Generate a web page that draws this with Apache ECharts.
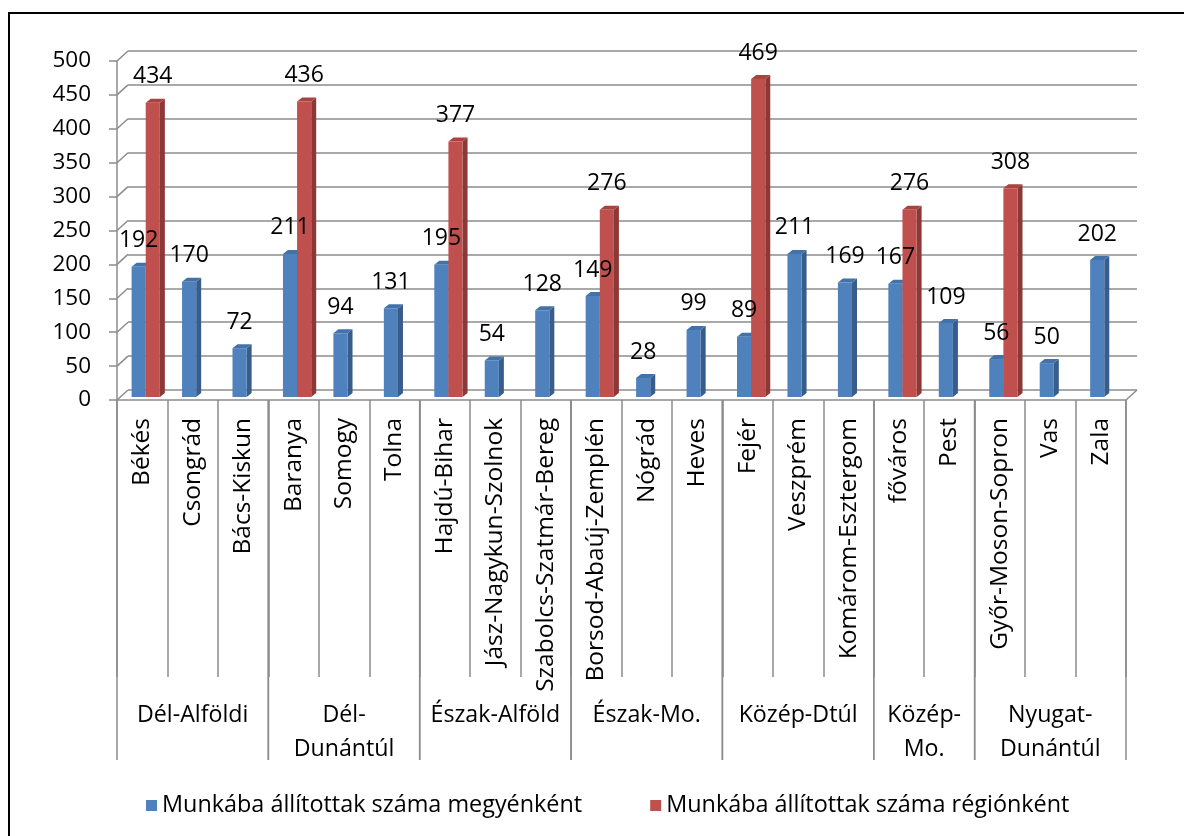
<!DOCTYPE html>
<html>
<head>
<meta charset="utf-8">
<script src="https://cdn.jsdelivr.net/npm/echarts@6/dist/echarts.min.js"></script>
<style>
html,body{margin:0;padding:0;background:#fff;overflow:hidden;}
#frame{position:absolute;left:8px;top:12px;width:1300px;height:1000px;border:2px solid #000;box-sizing:border-box;}
#chart{position:absolute;left:0;top:0;width:1184px;height:836px;}
</style>
</head>
<body>
<div id="frame"></div>
<div id="chart"></div>
<script>
const counties = ['Békés','Csongrád','Bács-Kiskun','Baranya','Somogy','Tolna','Hajdú-Bihar','Jász-Nagykun-Szolnok','Szabolcs-Szatmár-Bereg','Borsod-Abaúj-Zemplén','Nógrád','Heves','Fejér','Veszprém','Komárom-Esztergom','főváros','Pest','Győr-Moson-Sopron','Vas','Zala'];
const countyValues = [192,170,72,211,94,131,195,54,128,149,28,99,89,211,169,167,109,56,50,202];
const regionValues = [434,null,null,436,null,null,377,null,null,276,null,null,469,null,null,276,null,308,null,null];
const regionNames = ['Dél-Alföldi','Dél-\nDunántúl','Észak-Alföld','Észak-Mo.','Közép-Dtúl','Közép-\nMo.','Nyugat-\nDunántúl'];
const regionSizes = [3,3,3,3,3,2,3];
const yTicks = [0,50,100,150,200,250,300,350,400,450,500];
const seriesNames = ['Munkába állítottak száma megyénként','Munkába állítottak száma régiónként'];

const FONT = '"Open Sans", sans-serif';
const GRAY = '#8c8c8c';
const BAR_DX = 3.5, BAR_DY = -3;   // bars sit mid-depth
const DEPTH_X = 5, DEPTH_Y = -4;   // 3D depth of each bar
const BACK_DX = 11, BACK_DY = -10; // back wall offset

const blue = {front:'#4f81bd', side:'#385d8a', top:'#4372aa'};
const red = {front:'#c0504d', side:'#8c3836', top:'#a9433f'};

function barItem(api, slot, colors){
  const i = api.value(0), v = api.value(1);
  if (v == null || isNaN(v)) return null;
  const catW = api.size([1,0])[0];
  const bw = catW*0.28;
  const c = api.coord([i, v]);
  const base = api.coord([i, 0]);
  const x0 = c[0] + (slot === 0 ? -bw : 0) + BAR_DX;
  const x1 = x0 + bw;
  const yt = c[1] + BAR_DY, yb = base[1] + BAR_DY;
  return {type:'group', children:[
    {type:'polygon', shape:{points:[[x1,yb],[x1+DEPTH_X,yb+DEPTH_Y],[x1+DEPTH_X,yt+DEPTH_Y],[x1,yt]]}, style:{fill:colors.side}},
    {type:'polygon', shape:{points:[[x0,yt],[x0+DEPTH_X,yt+DEPTH_Y],[x1+DEPTH_X,yt+DEPTH_Y],[x1,yt]]}, style:{fill:colors.top}},
    {type:'rect', shape:{x:x0, y:yt, width:bw, height:yb-yt}, style:{fill:colors.front}}
  ]};
}

const labelData = counties.map((c,i)=>[i, countyValues[i], regionValues[i]==null? NaN : regionValues[i]]);
const regionData = [];
{ let s = 0; regionNames.forEach((n,k)=>{ regionData.push([s, regionSizes[k], k]); s += regionSizes[k]; }); }

const chart = echarts.init(document.getElementById('chart'), null, {renderer:'canvas'});
chart.setOption({
  animation:false,
  backgroundColor:'transparent',
  textStyle:{fontFamily:FONT},
  legend:{
    data:[{name:seriesNames[0], icon:'rect'},{name:seriesNames[1], icon:'rect'}],
    left:141, top:789, itemWidth:11, itemHeight:11, itemGap:68,
    textStyle:{fontFamily:FONT, fontSize:23.4, color:'#000', padding:[0,0,0,0]}
  },
  grid:[
    {left:117, right:58, top:61, bottom:436},
    {left:117+BACK_DX, right:58-BACK_DX, top:61+BACK_DY, bottom:436-BACK_DY}
  ],
  xAxis:[
    {type:'category', gridIndex:0, data:counties, boundaryGap:true,
     axisLine:{show:true, lineStyle:{color:GRAY, width:1.5}},
     axisTick:{show:true, interval:0, length:277, lineStyle:{color:GRAY, width:1.5}},
     axisLabel:{interval:0, rotate:90, margin:18, fontFamily:FONT, fontSize:24.5, color:'#000'}},
    {type:'category', gridIndex:1, data:counties, show:false}
  ],
  yAxis:[
    {type:'value', gridIndex:0, min:0, max:500, interval:50,
     axisLine:{show:true, lineStyle:{color:GRAY, width:1.5}},
     axisTick:{show:true, length:8, lineStyle:{color:GRAY, width:1.5}},
     axisLabel:{margin:26, fontFamily:FONT, fontSize:22.5, color:'#000'},
     splitLine:{show:false}},
    {type:'value', gridIndex:1, min:0, max:500, interval:50,
     axisLine:{show:false}, axisTick:{show:false}, axisLabel:{show:false},
     splitLine:{show:true, lineStyle:{color:GRAY, width:1.5}}}
  ],
  series:[
    {type:'custom', name:'diag', xAxisIndex:0, yAxisIndex:0, silent:true, z:1,
     data:yTicks.map(v=>[0,v]),
     renderItem:function(params, api){
       const v = api.value(1);
       const catW = api.size([1,0])[0];
       const p = api.coord([0, v]);
       const xl = p[0] - catW/2;
       const children = [{type:'line', shape:{x1:xl, y1:p[1], x2:xl+BACK_DX, y2:p[1]+BACK_DY}, style:{stroke:GRAY, lineWidth:1.5}}];
       if (v === 0) {
         const q = api.coord([counties.length-1, 0]);
         const xr = q[0] + catW/2;
         children.push({type:'line', shape:{x1:xr, y1:q[1], x2:xr+BACK_DX, y2:q[1]+BACK_DY}, style:{stroke:GRAY, lineWidth:1.5}});
       }
       return {type:'group', children};
     }},
    {type:'custom', name:'regions', xAxisIndex:0, yAxisIndex:0, silent:true, clip:false, z:1,
     data:regionData,
     renderItem:function(params, api){
       const s = api.value(0), n = api.value(1), k = api.value(2);
       const catW = api.size([1,0])[0];
       const p = api.coord([s, 0]);
       const x0 = p[0] - catW/2, x1 = x0 + n*catW, y0 = p[1];
       const children = [
         {type:'line', shape:{x1:x0, y1:y0, x2:x0, y2:y0+360}, style:{stroke:GRAY, lineWidth:1.5}},
         {type:'line', shape:{x1:x1, y1:y0, x2:x1, y2:y0+360}, style:{stroke:GRAY, lineWidth:1.5}},
         {type:'text', style:{text:regionNames[k], x:(x0+x1)/2, y:y0+298, align:'center', verticalAlign:'top', font:'23.2px '+FONT, lineHeight:34, fill:'#000'}}
       ];
       return {type:'group', children};
     }},
    {type:'custom', name:seriesNames[0], xAxisIndex:0, yAxisIndex:0, z:3,
     itemStyle:{color:blue.front},
     data:countyValues.map((v,i)=>[i,v]),
     renderItem:function(params, api){ return barItem(api, 0, blue); }},
    {type:'custom', name:seriesNames[1], xAxisIndex:0, yAxisIndex:0, z:3,
     itemStyle:{color:red.front},
     data:regionValues.map((v,i)=>[i, v==null? NaN : v]),
     renderItem:function(params, api){ return barItem(api, 1, red); }},
    {type:'custom', name:'labels', xAxisIndex:0, yAxisIndex:0, silent:true, clip:false, z:6,
     data:labelData,
     renderItem:function(params, api){
       const i = api.value(0);
       const catW = api.size([1,0])[0];
       const bw = catW*0.28;
       const children = [];
       [1,2].forEach((dim, slot)=>{
         const v = api.value(dim);
         if (v == null || isNaN(v)) return;
         const c = api.coord([i, v]);
         const cx = c[0] + (slot === 0 ? -bw/2 : bw/2) + BAR_DX;
         children.push({type:'text', style:{text:String(v), x:cx, y:c[1]+BAR_DY-26, align:'center', verticalAlign:'middle', font:'23px '+FONT, fill:'#000'}});
       });
       return {type:'group', children};
     }}
  ]
});
</script>
</body>
</html>
